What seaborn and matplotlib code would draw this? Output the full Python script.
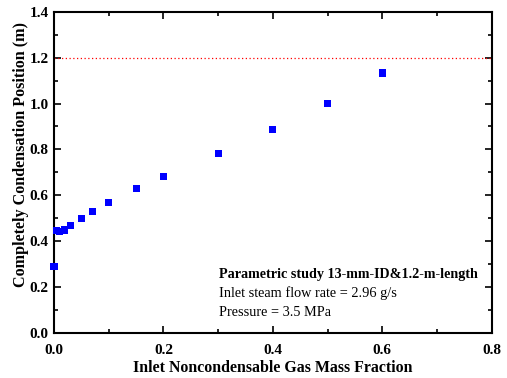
import matplotlib
matplotlib.use("Agg")
import matplotlib.pyplot as plt
import seaborn as sns
import pandas as pd
from matplotlib.ticker import MultipleLocator, FormatStrFormatter

gas_fraction = [0.0, 0.005, 0.01, 0.02, 0.03, 0.05, 0.07, 0.1, 0.15, 0.2, 0.3, 0.4, 0.5, 0.6]
position = [0.29, 0.446, 0.442, 0.449, 0.467, 0.499, 0.529, 0.568, 0.628, 0.683, 0.783, 0.887, 1.0, 1.133]
tube_length = 1.2

df = pd.DataFrame({"x": gas_fraction, "y": position})

sns.set_style("ticks")
plt.rcParams["font.family"] = ["Liberation Serif", "DejaVu Serif"]
plt.rcParams["text.color"] = "black"
plt.rcParams["axes.labelcolor"] = "black"
plt.rcParams["axes.edgecolor"] = "black"
plt.rcParams["xtick.color"] = "black"
plt.rcParams["ytick.color"] = "black"

fig = plt.figure(figsize=(5.07, 3.78), dpi=100)
ax = fig.add_axes([0.1065, 0.119, 0.8635, 0.850])

ax.axhline(tube_length, color="red", linestyle=(0, (1, 2)), linewidth=0.9, zorder=1)
sns.scatterplot(data=df, x="x", y="y", marker="s", s=26, color="#0000FF",
                edgecolor="none", ax=ax, zorder=3, clip_on=False)

ax.set_xlim(0, 0.8)
ax.set_ylim(0, 1.4)
ax.xaxis.set_major_locator(MultipleLocator(0.2))
ax.xaxis.set_minor_locator(MultipleLocator(0.1))
ax.yaxis.set_major_locator(MultipleLocator(0.2))
ax.yaxis.set_minor_locator(MultipleLocator(0.1))
ax.xaxis.set_major_formatter(FormatStrFormatter("%.1f"))
ax.yaxis.set_major_formatter(FormatStrFormatter("%.1f"))

ax.tick_params(which="both", direction="in", top=True, right=True, width=1.2)
ax.tick_params(which="major", length=5, labelsize=11)
ax.tick_params(which="minor", length=3)
ax.tick_params(axis="x", which="major", pad=8)
ax.tick_params(axis="y", which="major", pad=4)
for lab in ax.get_xticklabels() + ax.get_yticklabels():
    lab.set_fontweight("bold")
for sp in ax.spines.values():
    sp.set_visible(True)
    sp.set_linewidth(1.5)

ax.set_xlabel("Inlet Noncondensable Gas Mass Fraction", fontsize=11.4, fontweight="bold", labelpad=2)
ax.set_ylabel("Completely Condensation Position (m)", fontsize=11.6, fontweight="bold", labelpad=0)
ax.yaxis.label.set_y(0.555)

ax.text(0.302, 0.257, "Parametric study 13-mm-ID&1.2-m-length", fontsize=10.2, fontweight="bold",
        va="center", ha="left")
ax.text(0.302, 0.174, "Inlet steam flow rate = 2.96 g/s", fontsize=10.3, va="center", ha="left")
ax.text(0.302, 0.088, "Pressure = 3.5 MPa", fontsize=10.3, va="center", ha="left")

fig.savefig("out.png", dpi=100)
